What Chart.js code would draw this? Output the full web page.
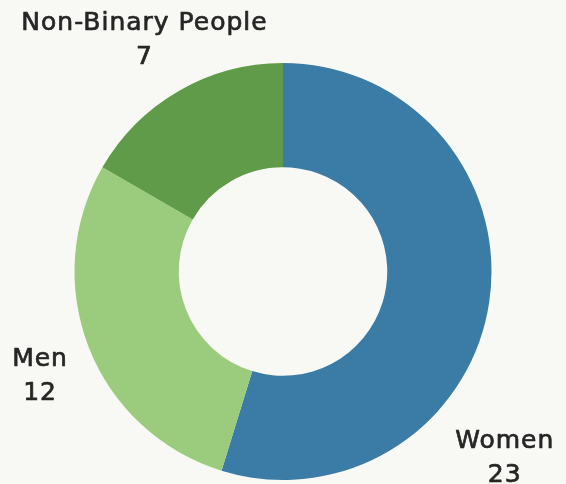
<!DOCTYPE html>
<html>
<head>
<meta charset="utf-8">
<script src="https://cdn.jsdelivr.net/npm/chart.js@4"></script>
<style>
  html, body { margin: 0; padding: 0; background: #f8f8f4; }
  #wrap { width: 566px; height: 484px; position: relative; }
</style>
</head>
<body>
<div id="wrap"><canvas id="c"></canvas></div>
<script>
const categories = ["Women", "Men", "Non-Binary People"];
const values = [23, 12, 7];
const colors = ["#3a7ca5", "#9bcc7e", "#5f9b48"];

// label placement relative to each slice: [angle offset in degrees, radius factor]
const labelPlacement = [[31.5, 1.39], [-2, 1.27], [-1, 1.29]];

const outerLabels = {
  id: 'outerLabels',
  afterDatasetsDraw(chart) {
    const ctx = chart.ctx;
    const meta = chart.getDatasetMeta(0);
    ctx.save();
    ctx.fillStyle = '#262626';
    ctx.strokeStyle = '#262626';
    ctx.lineWidth = 0.7;
    ctx.lineJoin = 'round';
    ctx.font = '25px "DejaVu Sans"';
    if ('letterSpacing' in ctx) ctx.letterSpacing = '1px';
    ctx.textAlign = 'center';
    ctx.textBaseline = 'middle';
    meta.data.forEach((arc, i) => {
      const mid = (arc.startAngle + arc.endAngle) / 2 + labelPlacement[i][0] * Math.PI / 180;
      const r = arc.outerRadius * labelPlacement[i][1];
      const x = arc.x + Math.cos(mid) * r;
      const y = arc.y + Math.sin(mid) * r;
      [[categories[i], y - 17], [String(values[i]), y + 17]].forEach(([t, ty]) => {
        ctx.fillText(t, x, ty);
        ctx.strokeText(t, x, ty);
      });
    });
    ctx.restore();
  }
};

new Chart(document.getElementById('c'), {
  type: 'doughnut',
  data: {
    labels: categories,
    datasets: [{
      data: values,
      backgroundColor: colors,
      borderWidth: 0
    }]
  },
  options: {
    responsive: true,
    maintainAspectRatio: false,
    animation: false,
    cutout: '50%',
    layout: { padding: { top: 63, bottom: 4, left: 0, right: 0 } },
    plugins: {
      legend: { display: false },
      tooltip: { enabled: false }
    }
  },
  plugins: [outerLabels]
});
</script>
</body>
</html>
